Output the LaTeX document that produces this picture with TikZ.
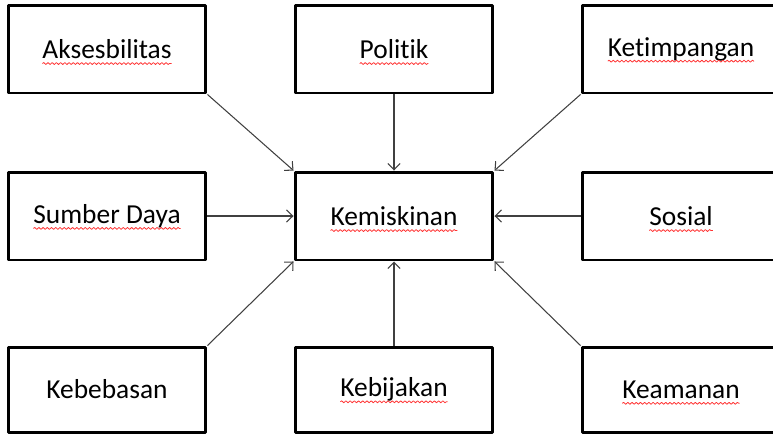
\documentclass[tikz,border=0pt]{standalone}
\usepackage{fontspec}
\setmainfont{Carlito}[Ligatures=NoCommon]
\usetikzlibrary{arrows.meta,decorations.pathmorphing}
\newcommand{\typo}[1]{\tikz[baseline=(w.base)]{\node[draw=none, inner sep=0pt, outer sep=0pt, minimum width=0pt, minimum height=0pt] (w) {#1};
	\draw[overlay, red!80, line width=.45pt, decorate, decoration={snake, amplitude=.55pt, segment length=2.4pt}]
	([yshift=-2.9pt]w.base west) -- ([yshift=-2.9pt]w.base east);}}

\begin{document}
\begin{tikzpicture}[x=.02cm, y=-.02cm, line join=round,
	box/.style={draw, line width=1.7pt, minimum width=3.96cm, minimum height=1.76cm, inner sep=0pt, font=\fontsize{15.6}{18}\selectfont},
	link/.style={draw=black!75, line width=.6pt, -{Straight Barb[length=3.6pt,width=7pt]}}]
	\useasboundingbox (0,0) rectangle (773,434);
	\clip (0,0) rectangle (773,434);
	\node[box] (aks) at (107,49) {\typo{Aksesbilitas}};
	\node[box] (pol) at (394,49) {\typo{Politik}};
	\node[box] (ket) at (681,49) {\typo{Ketimpangan}};
	\node[box] (sum) at (107,216) {\typo{Sumber Daya}};
	\node[box] (kem) at (394,216) {\typo{Kemiskinan}};
	\node[box] (sos) at (681,216) {\typo{Sosial}};
	\node[box, minimum height=1.7cm] (keb) at (107,389.5) {Kebebasan};
	\node[box, minimum height=1.7cm] (kbj) at (394,389.5) {\typo{Kebijakan}};
	\node[box, minimum height=1.7cm] (kea) at (681,389.5) {\typo{Keamanan}};
	\foreach \a/\b in {aks.south east/kem.north west, pol.south/kem.north, ket.south west/kem.north east,
		sum.east/kem.west, sos.west/kem.east,
		keb.north east/kem.south west, kbj.north/kem.south, kea.north west/kem.south east}
		\draw[link] (\a) -- (\b);
\end{tikzpicture}
\end{document}
